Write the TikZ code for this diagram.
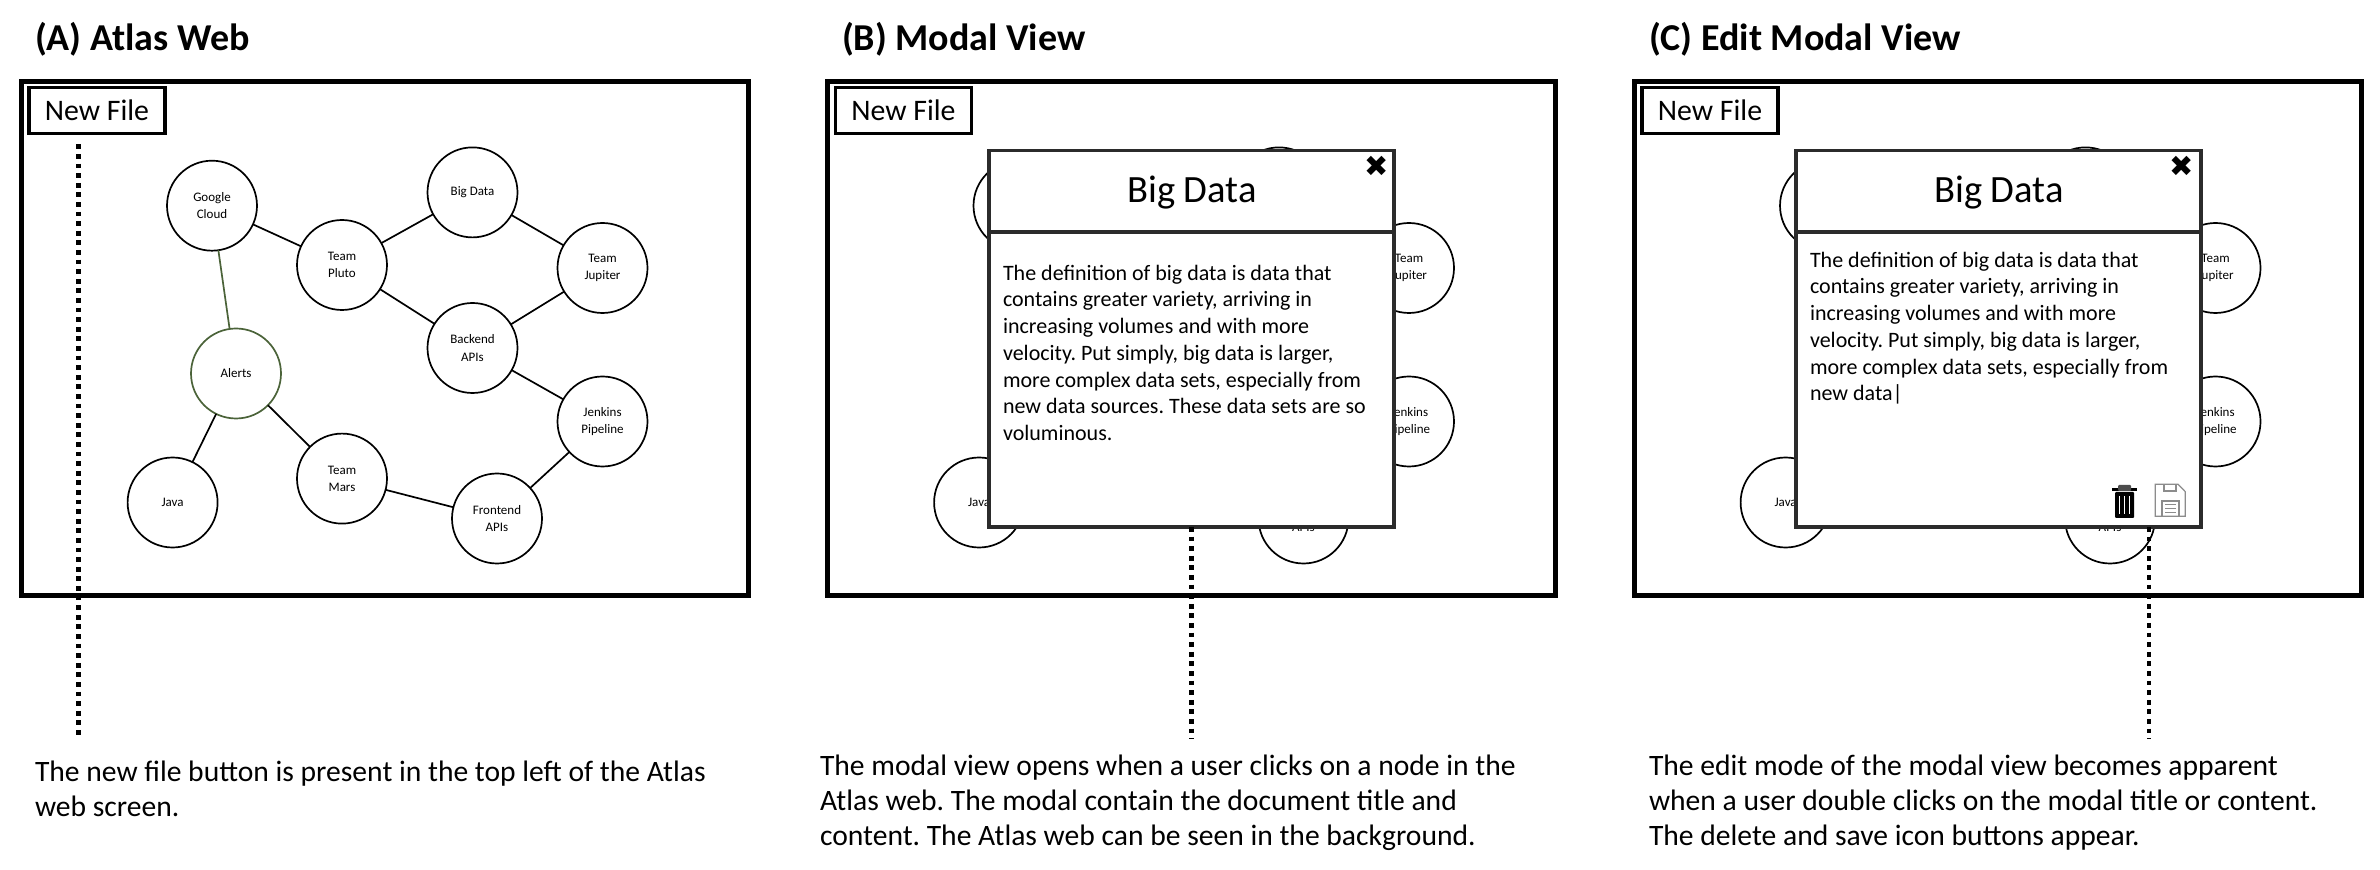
\documentclass[tikz,border=0pt]{standalone}
\usepackage{xcolor}
\usepackage{fontspec}
\setmainfont{Carlito}
\newfontfamily\iconfont{DejaVu Sans}
\usetikzlibrary{positioning}
\definecolor{alertgreen}{HTML}{4B6339}
\definecolor{modalline}{HTML}{2B2B2B}
\definecolor{savegrey}{HTML}{8C8C8C}
\newcommand{\bigdatalines}{The definition of big data is data that\\contains greater variety, arriving in\\increasing volumes and with more\\velocity. Put simply, big data is larger,\\more complex data sets, especially from\\}

\begin{document}
\frenchspacing
\begin{tikzpicture}[x=0.5pt, y=-0.5pt,
    every node/.style={inner sep=0pt, outer sep=0pt},
    heading/.style={anchor=west, font=\fontsize{19}{22}\selectfont\bfseries},
    panel/.style={draw, line width=2.5pt, minimum width=363.75pt, minimum height=257pt},
    newfile/.style={draw, line width=1.75pt, fill=white, minimum width=68pt, minimum height=23pt, font=\fontsize{14.9}{16}\selectfont},
    webnode/.style={circle, draw, line width=0.85pt, fill=white, minimum size=45pt, align=center, font=\fontsize{6.5}{8.7}\selectfont},
    webedge/.style={line width=0.85pt},
    modalhead/.style={draw=modalline, line width=1.75pt, fill=white, minimum width=202.5pt, minimum height=40.75pt},
    modaltitle/.style={font=\fontsize{19.3}{22}\selectfont},
    modalbody/.style={draw=modalline, line width=1.75pt, fill=white, minimum width=202.5pt, minimum height=147.5pt},
    modaltext/.style={anchor=north west, align=left, font=\fontsize{11}{13.35}\selectfont},
    closeicon/.style={font=\iconfont\fontsize{14.5}{16}\selectfont},
    caption/.style={anchor=north west, align=left, font=\fontsize{14.8}{17.5}\selectfont},
    dotline/.style={line width=2.4pt, dash pattern=on 2.4pt off 2.4pt}]
    \useasboundingbox (0,0) rectangle (2380,870);

    \foreach \p/\dx in {a/0, b/806.5, c/1613} {
    \begin{scope}[xshift=\dx*0.5pt]
        \node[panel] (\p-frame) at (385,338.5) {};
        \node[newfile] (\p-new) at (97,110.5) {New File};
        \foreach \n/\px/\py/\txt in {jupiter/602.5/268/Team\\Jupiter, jenkins/602.5/421.5/Jenkins\\Pipeline,
            java/172.6/502.5/Java, frontend/497/518.5/Frontend\\APIs}
            \node[webnode] (\p-\n) at (\px,\py) {\txt};
    \end{scope}
    }

    \node[webnode] (a-google) at (212,205.7) {Google\\Cloud};
    \node[webnode] (a-bigdata) at (472.5,192.4) {Big Data};
    \node[webnode] (a-pluto) at (342,265) {Team\\Pluto};
    \node[webnode] (a-backend) at (472.5,348) {Backend\\APIs};
    \node[webnode] (a-mars) at (342,478.6) {Team\\Mars};
    \node[webnode, draw=alertgreen] (a-alerts) at (236,373.5) {Alerts};
    \foreach \u/\v in {google/pluto, pluto/bigdata, pluto/backend, bigdata/jupiter, backend/jupiter,
        backend/jenkins, jenkins/frontend, mars/frontend, alerts/java, alerts/mars}
        \draw[webedge] (a-\u) -- (a-\v);
    \draw[webedge, alertgreen] (a-google) -- (a-alerts);

    \node[webnode] (b-google) at (1018.5,205.7) {};
    \node[webnode] (b-bigdata) at (1279,192.4) {};
    \node[webnode] (c-google) at (1825,205.7) {};
    \node[webnode] (c-bigdata) at (2085.5,192.4) {};

    \node[heading] (a-title) at (35,39.5) {(A) Atlas Web};
    \node[heading] (b-title) at (842,39.5) {(B) Modal View};
    \node[heading] (c-title) at (1649,39.5) {(C) Edit Modal View};

    \node[modalhead] (b-head) at (1191.6,191.25) {};
    \node[modalbody, below=0pt of b-head] (b-body) {};
    \node[modaltitle] (b-name) at (1192,193) {Big Data};
    \node[closeicon] (b-close) at (1376.5,166.5) {✖};
    \node[modaltext] (b-text) at (1003,265) {\bigdatalines new data sources. These data sets are so\\voluminous.};

    \node[modalhead] (c-head) at (1998.5,191.25) {};
    \node[modalbody, below=0pt of c-head] (c-body) {};
    \node[modaltitle] (c-name) at (1999,193) {Big Data};
    \node[closeicon] (c-close) at (2181.5,166.5) {✖};
    \node[modaltext] (c-text) at (1810,252) {\bigdatalines new data|};

    \fill[rounded corners=0.5pt] (2115,492) -- (2134,492) -- (2134,518) -- (2115,518) -- cycle;
    \fill (2112,488.5) rectangle (2137,491.5);
    \fill[black!70, rounded corners=0.5pt] (2118,491) rectangle (2131,485);
    \foreach \bx in {2119.5,2124.5,2129.5}
        \draw[white, line width=0.9pt] (\bx,496) -- (\bx,514);
    \draw[savegrey, line width=0.6pt] (2155.3,484.3) -- (2178,484.3) -- (2185.3,491.7) -- (2185.3,516.3) -- (2155.3,516.3) -- cycle;
    \draw[savegrey, line width=0.6pt] (2164,484.3) -- (2164,491) -- (2176,491) -- (2176,484.3);
    \draw[savegrey, line width=0.6pt] (2162,516.3) -- (2162,501) -- (2179,501) -- (2179,516.3);
    \foreach \by in {505,509,513}
        \draw[savegrey, line width=0.5pt] (2165,\by) -- (2176,\by);

    \coordinate (a-tip) at (78.6,739);
    \coordinate (b-tip) at (1191.5,739);
    \coordinate (c-tip) at (2149,739);
    \draw[dotline, shorten <=5.5pt] (a-new.south -| a-tip) -- (a-tip);
    \draw[dotline] (b-body.south -| b-tip) -- (b-tip);
    \draw[dotline] (c-body.south -| c-tip) -- (c-tip);

    \node[caption] (a-caption) at (35,761) {The new file button is present in the top left of the Atlas\\web screen.};
    \node[caption] (b-caption) at (820,755) {The modal view opens when a user clicks on a node in the\\Atlas web. The modal contain the document title and\\content. The Atlas web can be seen in the background.};
    \node[caption] (c-caption) at (1649,755) {The edit mode of the modal view becomes apparent\\when a user double clicks on the modal title or content.\\The delete and save icon buttons appear.};
\end{tikzpicture}
\end{document}
